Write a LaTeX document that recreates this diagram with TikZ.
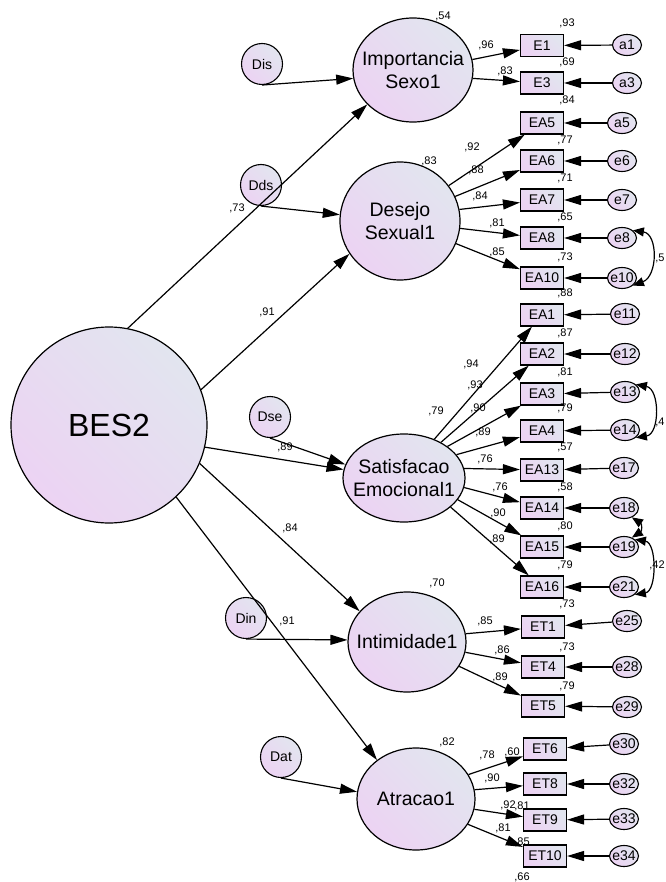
\documentclass[tikz,border=0pt]{standalone}
\usepackage{fontspec}
\setmainfont{Liberation Sans}
\usetikzlibrary{shapes.geometric,arrows.meta}
\definecolor{cA}{RGB}{226,229,239}
\definecolor{cB}{RGB}{236,211,243}
\begin{document}
\begin{tikzpicture}[x=1pt,y=-1pt,
  shd/.style={left color=cA,right color=cB,shading angle=-45},
  lat/.style={ellipse,draw,line width=1.2pt,shd,inner xsep=-10pt,inner ysep=0pt,align=center,font=\fontsize{19.5}{23}\selectfont},
  obs/.style={rectangle,draw,line width=1.2pt,shd,minimum width=43pt,minimum height=22pt,inner sep=0pt,font=\fontsize{14}{16}\selectfont},
  err/.style={ellipse,draw,line width=1.1pt,shd,minimum width=29pt,minimum height=21pt,inner xsep=-3pt,inner ysep=0pt,font=\fontsize{14}{16}\selectfont},
  dist/.style={circle,draw,line width=1.1pt,shd,minimum size=41pt,inner sep=0pt,font=\fontsize{14}{16}\selectfont},
  lab/.style={inner sep=0pt,font=\fontsize{11}{12}\selectfont},
  arr/.style={line width=1.2pt,-{Triangle[length=17pt,width=10pt]}},
  cov/.style={line width=1.2pt,{Triangle[length=11pt,width=9pt]}-{Triangle[length=11pt,width=9pt]}}]
\useasboundingbox (0,0) rectangle (665,882);
\fill[white] (0,0) rectangle (665,882);
% latent variables
\node[circle,draw,line width=1.2pt,shd,minimum size=196pt,inner sep=0pt,font=\fontsize{32}{36}\selectfont] (BES) at (109,425) {BES2};
\node[lat,minimum width=120pt,minimum height=104pt] (Imp) at (413,70) {Importancia\\Sexo1};
\node[lat,minimum width=120pt,minimum height=118pt] (Des) at (400,221) {Desejo\\Sexual1};
\node[lat,minimum width=122pt,minimum height=88pt] (Sat) at (404,478) {Satisfacao\\Emocional1};
\node[lat,minimum width=118pt,minimum height=100pt] (Int) at (407,642) {Intimidade1};
\node[lat,minimum width=118pt,minimum height=102pt] (Atr) at (416,799) {Atracao1};
% disturbances
\node[dist] (Dis) at (262,64) {Dis};
\node[dist] (Dds) at (261,185) {Dds};
\node[dist] (Dse) at (270,417) {Dse};
\node[dist] (Din) at (246,618) {Din};
\node[dist] (Dat) at (281,757) {Dat};
% observed
\node[obs] (E1) at (542,45.5) {E1};
\node[obs] (E3) at (542,83) {E3};
\node[obs] (EA5) at (542,123) {EA5};
\node[obs] (EA6) at (542,161) {EA6};
\node[obs] (EA7) at (542,200) {EA7};
\node[obs] (EA8) at (542,238) {EA8};
\node[obs] (EA10) at (542,278) {EA10};
\node[obs] (EA1) at (542,315) {EA1};
\node[obs] (EA2) at (542,354) {EA2};
\node[obs] (EA3) at (542,394) {EA3};
\node[obs] (EA4) at (542,431) {EA4};
\node[obs] (EA13) at (542,470) {EA13};
\node[obs] (EA14) at (542,508) {EA14};
\node[obs] (EA15) at (542,547) {EA15};
\node[obs] (EA16) at (542,587) {EA16};
\node[obs] (ET1) at (543,627) {ET1};
\node[obs] (ET4) at (543,667) {ET4};
\node[obs] (ET5) at (543,706) {ET5};
\node[obs] (ET6) at (545,749) {ET6};
\node[obs] (ET8) at (545,784) {ET8};
\node[obs] (ET9) at (545,820) {ET9};
\node[obs] (ET10) at (545,856) {ET10};
% errors
\node[err] (a1) at (627,45) {a1};
\node[err] (a3) at (627,83) {a3};
\node[err] (a5) at (622,123) {a5};
\node[err] (e6) at (622,161) {e6};
\node[err] (e7) at (622,200) {e7};
\node[err] (e8) at (622,238) {e8};
\node[err] (e10) at (622,278) {e10};
\node[err] (e11) at (625,314) {e11};
\node[err] (e12) at (625,354) {e12};
\node[err] (e13) at (625,392) {e13};
\node[err] (e14) at (625,430) {e14};
\node[err] (e17) at (624,468) {e17};
\node[err] (e18) at (624,508) {e18};
\node[err] (e19) at (624,547) {e19};
\node[err] (e21) at (624,587) {e21};
\node[err] (e25) at (627,621) {e25};
\node[err] (e28) at (627,667) {e28};
\node[err] (e29) at (627,707) {e29};
\node[err] (e30) at (624,744) {e30};
\node[err] (e32) at (624,784) {e32};
\node[err] (e33) at (624,819) {e33};
\node[err] (e34) at (624,856) {e34};
% structural paths
\draw[arr] (BES.79) -- (Imp.217);
\draw[arr] (BES.21) -- (Des.213);
\draw[arr] (BES.-13) -- (Sat.172);
\draw[arr] (BES.-23) -- (Int.147);
\draw[arr] (BES.-47) -- (Atr.135);
% disturbance paths
\draw[arr] (Dis.south) -- (Imp.188);
\draw[arr] (Dds.south) -- (Des.174);
\draw[arr] (Dse.south) -- (Sat.167);
\draw[arr] (Din.south) -- (Int.178);
\draw[arr] (Dat.south) -- (Atr.173);
% loadings
\draw[arr] (Imp.10) -- (E1);
\draw[arr] (Imp.-8) -- (E3);
\draw[arr] (Des.36) -- (EA5);
\draw[arr] (Des.24) -- (EA6);
\draw[arr] (Des.11) -- (EA7);
\draw[arr] (Des.-7) -- (EA8);
\draw[arr] (Des.-22) -- (EA10);
\draw[arr] (Sat.52) -- (EA1);
\draw[arr] (Sat.44) -- (EA2);
\draw[arr] (Sat.36) -- (EA3);
\draw[arr] (Sat.24) -- (EA4);
\draw[arr] (Sat.9) -- (EA13);
\draw[arr] (Sat.-9) -- (EA14);
\draw[arr] (Sat.-22) -- (EA15);
\draw[arr] (Sat.-32) -- (EA16);
\draw[arr] (Int.8) -- (ET1);
\draw[arr] (Int.-10) -- (ET4);
\draw[arr] (Int.-25) -- (ET5);
\draw[arr] (Atr.25) -- (ET6);
\draw[arr] (Atr.9) -- (ET8);
\draw[arr] (Atr.-10) -- (ET9);
\draw[arr] (Atr.-26) -- (ET10);
% error paths
\foreach \e/\b in {a1/E1,a3/E3,a5/EA5,e6/EA6,e7/EA7,e8/EA8,e10/EA10,e11/EA1,e12/EA2,e13/EA3,e14/EA4,e17/EA13,e18/EA14,e19/EA15,e21/EA16,e25/ET1,e28/ET4,e29/ET5,e30/ET6,e32/ET8,e33/ET9,e34/ET10}
  \draw[arr] (\e) -- (\b);
% covariances
\draw[cov] (e8.35) .. controls (658,234) and (658,276) .. (e10.-35);
\draw[cov] (e13.35) .. controls (660,389) and (660,434) .. (e14.-35);
\draw[cov] (e18.-50) .. controls (642,524) and (642,531) .. (e19.50);
\draw[cov] (e19.35) .. controls (657,543) and (657,591) .. (e21.-35);
% labels
\node[lab] (r1) at (443,16) {,54};
\node[lab] (r2) at (429,161) {,83};
\node[lab] (r3) at (436,411) {,79};
\node[lab] (r4) at (437,583) {,70};
\node[lab] (r5) at (447,742) {,82};
\node[lab] (s1) at (237,208) {,73};
\node[lab] (s2) at (267,312) {,91};
\node[lab] (s3) at (285,447) {,89};
\node[lab] (s4) at (290,528) {,84};
\node[lab] (s5) at (287,621) {,91};
\node[lab] (w1) at (486,45) {,96};
\node[lab] (w2) at (505,71) {,83};
\node[lab] (w3) at (472,147) {,92};
\node[lab] (w4) at (476,170) {,88};
\node[lab] (w5) at (480,196) {,84};
\node[lab] (w6) at (497,223) {,81};
\node[lab] (w7) at (497,252) {,85};
\node[lab] (w8) at (471,364) {,94};
\node[lab] (w9) at (475,385) {,93};
\node[lab] (w10) at (478,408) {,90};
\node[lab] (w11) at (483,432) {,89};
\node[lab] (w12) at (485,459) {,76};
\node[lab] (w13) at (500,487) {,76};
\node[lab] (w14) at (498,513) {,90};
\node[lab] (w15) at (497,539) {,89};
\node[lab] (w16) at (485,621) {,85};
\node[lab] (w17) at (502,650) {,86};
\node[lab] (w18) at (500,677) {,89};
\node[lab] (w19) at (487,755) {,78};
\node[lab] (w20) at (492,778) {,90};
\node[lab] (w21) at (508,805) {,92};
\node[lab] (w22) at (503,828) {,81};
\node[lab] (q1) at (567,23) {,93};
\node[lab] (q2) at (567,62) {,69};
\node[lab] (q3) at (567,100) {,84};
\node[lab] (q4) at (565,140) {,77};
\node[lab] (q5) at (565,178) {,71};
\node[lab] (q6) at (565,217) {,65};
\node[lab] (q7) at (565,257) {,73};
\node[lab] (q8) at (565,293) {,88};
\node[lab] (q9) at (565,333) {,87};
\node[lab] (q10) at (565,372) {,81};
\node[lab] (q11) at (565,408) {,79};
\node[lab] (q12) at (565,447) {,57};
\node[lab] (q13) at (565,487) {,58};
\node[lab] (q14) at (565,526) {,80};
\node[lab] (q15) at (565,565) {,79};
\node[lab] (q16) at (567,604) {,73};
\node[lab] (q17) at (567,647) {,73};
\node[lab] (q18) at (567,686) {,79};
\node[lab] (q19) at (512,752) {,60};
\node[lab] (q20) at (522,806) {,81};
\node[lab] (q21) at (522,842) {,85};
\node[lab] (q22) at (522,877) {,66};
\node[lab] (c1) at (660,258) {,5};
\node[lab] (c2) at (660,422) {,4};
\node[lab] (c3) at (657,565) {,42};
\end{tikzpicture}
\end{document}
